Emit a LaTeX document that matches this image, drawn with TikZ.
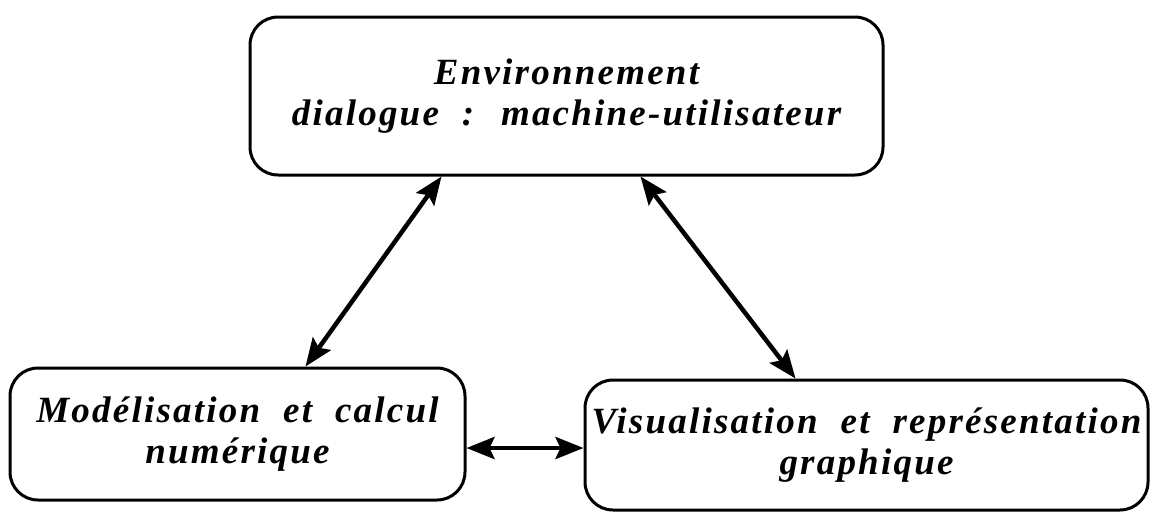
\documentclass[tikz,border=0pt]{standalone}
\usepackage{fontspec}
\setmainfont{Liberation Serif}
\newfontfamily\boxfont{Liberation Serif}[LetterSpace=6,WordSpace=2]
\usetikzlibrary{arrows.meta}
\begin{document}
\begin{tikzpicture}[x=1pt,y=-1pt,
  box/.style={draw, line width=3pt, rounded corners=28pt, align=center, inner sep=0pt,
    font=\boxfont\bfseries\itshape\fontsize{37}{41}\selectfont},
  arr/.style={line width=4.5pt, {Stealth[length=28pt,width=22pt,inset=5pt]}-{Stealth[length=28pt,width=22pt,inset=5pt]}}]
\useasboundingbox (0,0) rectangle (1151,512);
\node[box, minimum width=633pt, minimum height=158pt] (top) at (566.5,96) {Environnement\\dialogue : machine-utilisateur};
\node[box, minimum width=455pt, minimum height=132pt] (bl) at (237.5,434) {Modélisation et calcul\\numérique};
\node[box, minimum width=563pt, minimum height=130pt] (br) at (866.5,445) {Visualisation et représentation\\graphique};
\draw[arr] ([xshift=193pt]top.south west) -- ([xshift=297pt]bl.north west);
\draw[arr] ([xshift=392pt]top.south west) -- ([xshift=212pt]br.north west);
\draw[arr] ([yshift=-14pt]bl.east) -- ([yshift=-3pt]br.west);
\end{tikzpicture}
\end{document}
